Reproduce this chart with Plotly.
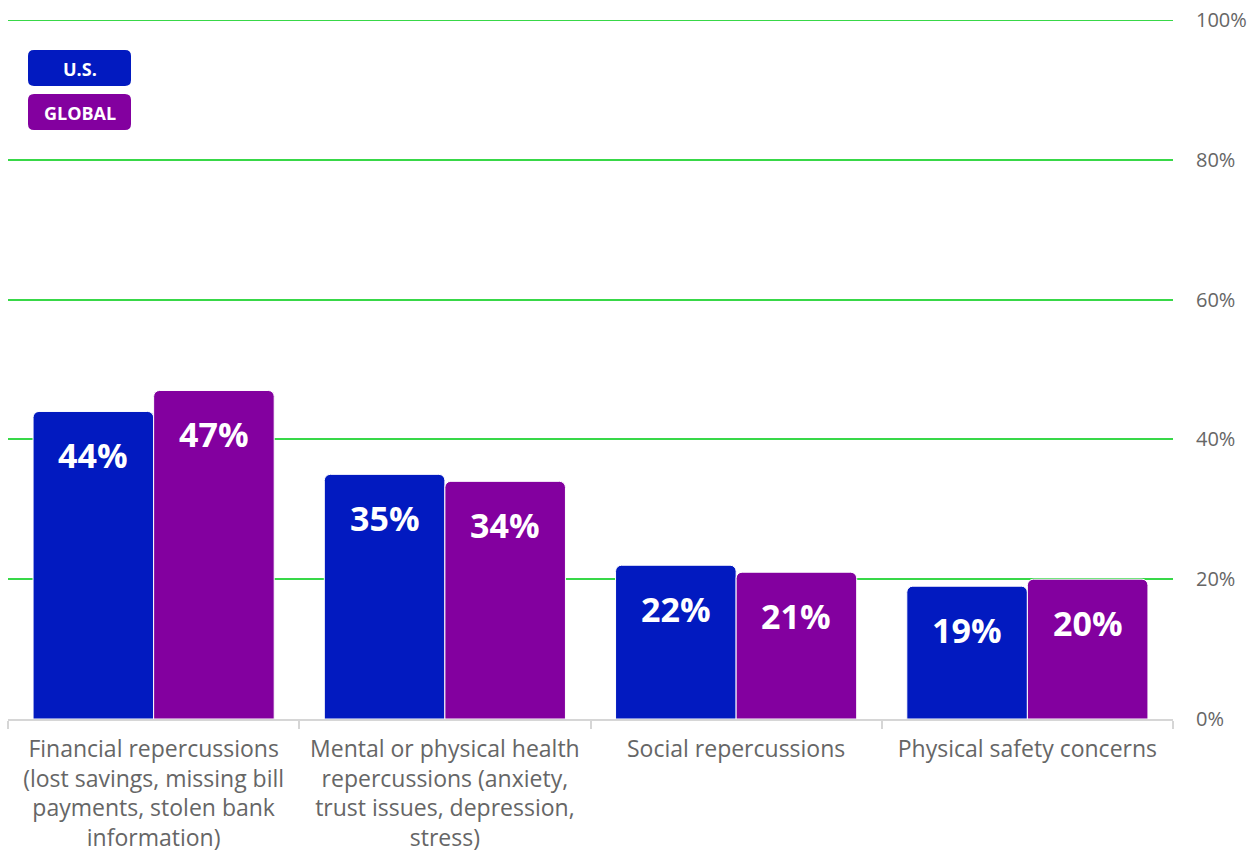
import plotly.graph_objects as go

# Survey data: share of respondents reporting each consequence
categories = [
    "Financial repercussions<br>(lost savings, missing bill<br>payments, stolen bank<br>information)",
    "Mental or physical health<br>repercussions (anxiety,<br>trust issues, depression,<br>stress)",
    "Social repercussions",
    "Physical safety concerns",
]
us_values = [44, 35, 22, 19]
global_values = [47, 34, 21, 20]
y_ticks = [0, 20, 40, 60, 80, 100]
y_tick_labels = ["0%", "20%", "40%", "60%", "80%", "100%"]

US_COLOR = "#021AC0"
GLOBAL_COLOR = "#83009F"
GRID_COLOR = "#38d848"
FONT = "Open Sans"

W, H = 1258, 856
ML, MR, MT, MB = 8, 85, 20, 137

fig = go.Figure()
fig.add_trace(go.Bar(
    x=categories, y=us_values, name="U.S.",
    marker=dict(color=US_COLOR, line=dict(color="white", width=1), cornerradius=6),
    hoverinfo="skip",
))
fig.add_trace(go.Bar(
    x=categories, y=global_values, name="GLOBAL",
    marker=dict(color=GLOBAL_COLOR, line=dict(color="white", width=1), cornerradius=6),
    hoverinfo="skip",
))

# Value labels placed inside the top of each bar
annotations = []
for i, (u, g) in enumerate(zip(us_values, global_values)):
    for val, shift in ((u, -0.207), (g, 0.207)):
        annotations.append(dict(
            x=i + shift, y=val, xref="x", yref="y",
            text=f"<b>{val}%</b>", showarrow=False,
            yanchor="middle", yshift=-44,
            font=dict(family=FONT, size=34, color="white"),
        ))

# Legend chips (rounded rectangles) in the top-left corner
pw, ph = W - ML - MR, H - MT - MB


def px_to_paper(x, y):
    return (x - ML) / pw, (H - MB - y) / ph


def rounded_rect(x0, y0, x1, y1, r):
    def P(x, y):
        a, b = px_to_paper(x, y)
        return f"{a:.5f},{b:.5f}"
    return (
        f"M {P(x0 + r, y0)} L {P(x1 - r, y0)} Q {P(x1, y0)} {P(x1, y0 + r)} "
        f"L {P(x1, y1 - r)} Q {P(x1, y1)} {P(x1 - r, y1)} "
        f"L {P(x0 + r, y1)} Q {P(x0, y1)} {P(x0, y1 - r)} "
        f"L {P(x0, y0 + r)} Q {P(x0, y0)} {P(x0 + r, y0)} Z"
    )


shapes = []
# top gridline at 100% (sits on the edge of the plotting area)
shapes.append(dict(
    type="line", xref="paper", yref="y", x0=0, x1=1, y0=100, y1=100,
    line=dict(color=GRID_COLOR, width=2), layer="below",
))
for label, color, top in (("U.S.", US_COLOR, 50), ("GLOBAL", GLOBAL_COLOR, 94)):
    shapes.append(dict(
        type="path", xref="paper", yref="paper",
        path=rounded_rect(28, top, 131, top + 36, 6),
        fillcolor=color, line=dict(width=0), layer="above",
    ))
    cx, cy = px_to_paper(79.5, top + 19)
    annotations.append(dict(
        x=cx, y=cy, xref="paper", yref="paper",
        text=f"<b>{label}</b>", showarrow=False,
        xanchor="center", yanchor="middle",
        font=dict(family=FONT, size=18, color="white"),
    ))

fig.update_layout(
    width=W, height=H,
    margin=dict(l=ML, r=MR, t=MT, b=MB, autoexpand=False),
    paper_bgcolor="white", plot_bgcolor="white",
    barmode="group", bargap=0.172, bargroupgap=0,
    showlegend=False,
    font=dict(family=FONT, color="#666666"),
    annotations=annotations, shapes=shapes,
)
fig.update_xaxes(
    showgrid=False, showline=True, linecolor="#d6d6d6", linewidth=2,
    ticks="outside", tickson="boundaries", ticklen=8, tickcolor="#d6d6d6", tickwidth=2,
    ticklabelstandoff=8,
    tickfont=dict(family=FONT, size=23, color="#666666"),
    fixedrange=True,
)
fig.update_yaxes(
    range=[0, 100], side="right",
    tickvals=y_ticks, ticktext=y_tick_labels,
    showgrid=True, gridcolor=GRID_COLOR, gridwidth=2,
    zeroline=False, showline=False, ticks="", ticklabelstandoff=22,
    tickfont=dict(family=FONT, size=20, color="#666666"),
    fixedrange=True,
)

fig.write_html("out.html")
